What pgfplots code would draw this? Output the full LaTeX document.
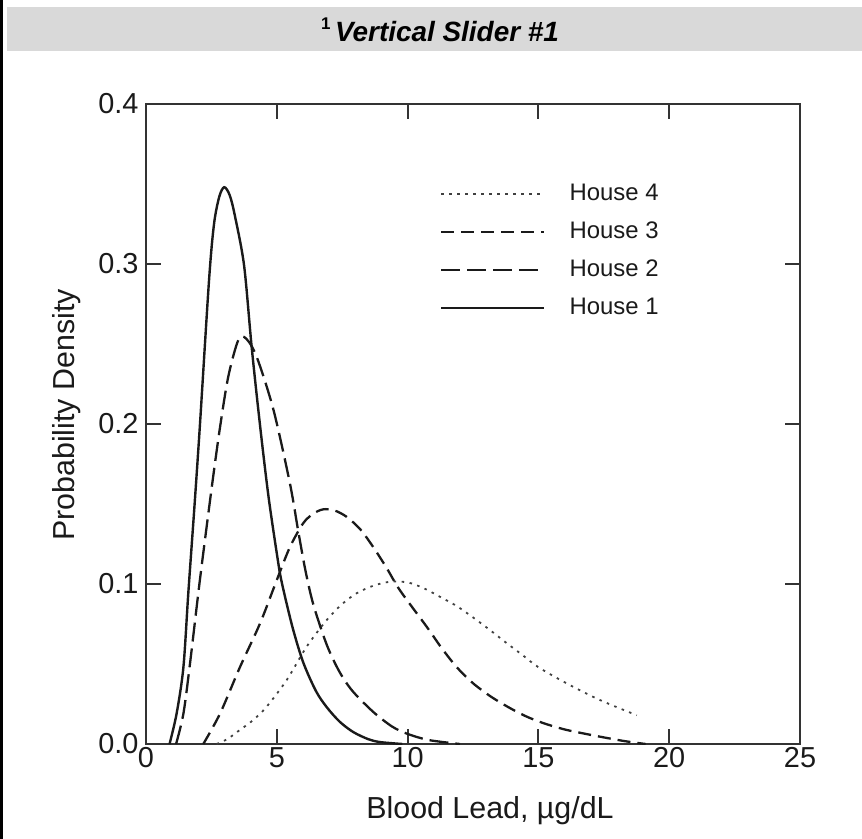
\documentclass[border=0pt]{standalone}
\usepackage{fontspec}
\setmainfont{Liberation Sans}
\usepackage{pgfplots}
\pgfplotsset{compat=1.18}
\definecolor{hdr}{HTML}{D9D9D9}
\definecolor{ink}{HTML}{1A1A1A}
\begin{document}
\begin{tikzpicture}
\useasboundingbox (0,0) rectangle (862bp,-839bp);
\fill[hdr] (7bp,-7bp) rectangle (862bp,-51bp);
\draw[line width=2.5bp, black] (1.25bp,0bp) -- (1.25bp,-839bp);
\node[anchor=center] at (440bp,-30bp) {\fontsize{28}{28}\selectfont\raisebox{0.42em}{\fontsize{17}{17}\selectfont\bfseries 1}\,\bfseries\itshape Vertical Slider \#1};
\begin{axis}[
  at={(146bp,-744bp)}, anchor=south west,
  width=654bp, height=640bp, scale only axis,
  xmin=0, xmax=25, ymin=0, ymax=0.4,
  xtick={0,5,10,15,20,25},
  ytick={0,0.1,0.2,0.3,0.4},
  yticklabel style={xshift=-4bp, /pgf/number format/.cd, fixed, fixed zerofill, precision=1},
  /pgf/number format/assume math mode=true,
  tick label style={font=\fontsize{29}{29}\selectfont, text=ink},
  tick align=inside,
  major tick length=15bp,
  tick style={line width=2bp, color=black!80},
  axis line style={line width=2bp, color=black!80},
  xlabel={Blood Lead, µg/dL},
  ylabel={Probability Density},
  label style={font=\fontsize{30.5}{30.5}\selectfont, text=ink},
  xlabel style={at={(axis description cs:0.526,-0.117)}, anchor=base},
  ylabel style={at={(axis description cs:-0.1086,0.514)}, anchor=base},
  legend style={at={(axis description cs:0.4495,0.8766)}, anchor=north west,
    draw=none, fill=none, inner sep=0pt, row sep=16bp,
    font=\fontsize{24}{24}\selectfont,
    nodes={inner sep=0pt, text height=17bp, text depth=5bp, text=ink},
    /tikz/every odd column/.append style={column sep=24bp}},
  legend cell align=left,
  legend image code/.code={\draw[#1] (0bp,0bp) -- (103bp,0bp);},
]
% House 4 (dotted)
\addplot[smooth, tension=0.5, color=black!75, line width=1.8bp, dash pattern=on 2.5bp off 5.5bp] coordinates {
(2.70,0) (3.10,0.003) (3.59,0.0088) (4.10,0.015) (4.61,0.0233) (5.38,0.040) (6.14,0.0608) (6.91,0.0775) (7.50,0.0875) (8.05,0.0942) (8.70,0.0990) (9.33,0.1014) (10.00,0.1010) (10.60,0.0975) (11.24,0.0920) (11.90,0.0860) (12.51,0.0790) (13.15,0.0712) (13.79,0.0630) (14.40,0.0555) (15.00,0.0480) (16.08,0.0379) (17.35,0.0275) (18.76,0.0180)
};
\addlegendentry{House 4}
% House 3 (short dash)
\addplot[smooth, tension=0.5, color=ink, line width=2.3bp, dash pattern=on 13bp off 7bp] coordinates {
(2.19,0) (2.83,0.019) (3.59,0.048) (4.36,0.0754) (5.00,0.1025) (5.50,0.123) (6.01,0.138) (6.40,0.1440) (6.78,0.1467) (7.20,0.1460) (7.67,0.1420) (8.20,0.1340) (8.69,0.1230) (9.20,0.1100) (9.71,0.0960) (10.73,0.0733) (11.30,0.0600) (11.88,0.0480) (12.50,0.0380) (13.15,0.0300) (13.80,0.0235) (14.50,0.0175) (15.20,0.0130) (16.08,0.0088) (17.35,0.0046) (18.30,0.0018) (19.10,0)
};
\addlegendentry{House 3}
% House 2 (long dash)
\addplot[smooth, tension=0.5, color=ink, line width=2.3bp, dash pattern=on 19bp off 7bp] coordinates {
(1.15,0) (1.43,0.019) (1.68,0.050) (2.06,0.1025) (2.51,0.160) (2.83,0.198) (3.15,0.230) (3.53,0.2525) (3.82,0.2535) (4.23,0.242) (4.87,0.209) (5.50,0.163) (5.82,0.133) (6.10,0.108) (6.40,0.087) (6.91,0.062) (7.40,0.045) (7.90,0.033) (8.69,0.020) (9.40,0.011) (9.97,0.0065) (10.80,0.0025) (12.0,0)
};
\addlegendentry{House 2}
% House 1 (solid)
\addplot[smooth, tension=0.5, color=ink, line width=2.4bp] coordinates {
(0.90,0) (1.17,0.019) (1.43,0.048) (1.62,0.095) (1.85,0.148) (2.06,0.199) (2.41,0.290) (2.60,0.325) (2.80,0.342) (2.99,0.348) (3.20,0.343) (3.40,0.330) (3.75,0.299) (4.04,0.248) (4.36,0.199) (4.68,0.155) (5.02,0.117) (5.19,0.101) (5.60,0.073) (6.01,0.051) (6.50,0.033) (6.91,0.023) (7.40,0.014) (7.92,0.0075) (8.50,0.003) (8.95,0.0012) (9.80,0)
};
\addlegendentry{House 1}
\end{axis}
\end{tikzpicture}
\end{document}
